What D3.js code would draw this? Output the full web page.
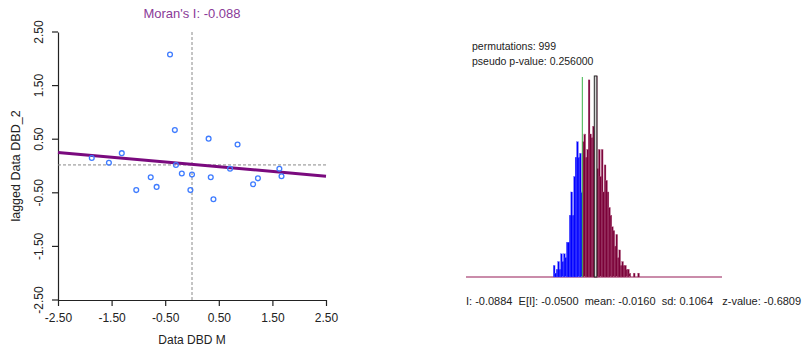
<!DOCTYPE html>
<html>
<head>
<meta charset="utf-8">
<script src="https://cdn.jsdelivr.net/npm/d3@7"></script>
<style>
  body { margin: 0; background: #fff; }
  svg { font-family: "Liberation Sans", Arial, sans-serif; }
</style>
</head>
<body>
<div class="chart"></div>
<script>
// scatter: standardized value vs spatial lag
const dataX   = [-0.41, -0.32, 0.31, 0.85, -1.31, -1.87, -1.55, -0.30, 1.63, 0.71, -0.19,
                 0.00, 0.35, -0.77, 1.67, 1.23, 1.14, -0.66, -1.04, -0.03, 0.40];
const laggedY = [2.08, 0.67, 0.51, 0.40, 0.24, 0.15, 0.06, 0.02, -0.05, -0.05, -0.14,
                 -0.16, -0.21, -0.21, -0.19, -0.23, -0.34, -0.39, -0.45, -0.45, -0.62];
const axisTicks = [-2.5, -1.5, -0.5, 0.5, 1.5, 2.5];
const moransI = -0.088;
const intercept = 0.03;
const meanLag = 0.02;

// permutation histogram
const binStart = -0.248;
const binWidth = 0.008;
const permCounts = [3, 1, 2, 4, 2, 6, 4, 6, 5, 9, 9, 16, 22, 16, 26, 31, 35, 31, 32, 22,
                    35, 37, 31, 33, 51, 37, 36, 39, 38, 52, 28, 33, 26, 33, 22, 29, 25, 22, 18, 16,
                    13, 12, 8, 11, 5, 7, 3, 4, 3, 3, 2, 2, 1, 0, 0, 1, 0, 0, 1, 0];
const observedI = -0.0884;
const permMean = -0.016;
const infoLines = ["permutations: 999", "pseudo p-value: 0.256000"];
const statsLine = "I: -0.0884  E[I]: -0.0500  mean: -0.0160  sd: 0.1064   z-value: -0.6809";

const width = 803, height = 348;

const svg = d3.select(".chart").append("svg")
  .attr("width", width)
  .attr("height", height);

// ---------- scatter ----------
let x = d3.scaleLinear().domain([-2.5, 2.5]).range([58, 326]);
let y = d3.scaleLinear().domain([-2.5, 2.5]).range([300, 32]);

let fmt = function(d) { return d.toFixed(2); };

let xAxis = svg.append("g")
  .attr("transform", "translate(0,300)")
  .call(d3.axisBottom(x).tickValues(axisTicks).tickFormat(fmt).tickSize(6).tickSizeOuter(0));
xAxis.selectAll("text")
  .attr("font-size", 12)
  .attr("fill", "#222")
  .attr("font-family", "Liberation Sans, Arial, sans-serif")
  .attr("dy", "1.05em");

let yAxis = svg.append("g")
  .attr("transform", "translate(58,0)")
  .call(d3.axisLeft(y).tickValues(axisTicks).tickFormat(fmt).tickSize(6).tickSizeOuter(0));
yAxis.selectAll("text")
  .attr("font-size", 12)
  .attr("fill", "#222")
  .attr("font-family", "Liberation Sans, Arial, sans-serif")
  .attr("text-anchor", "middle")
  .attr("x", 0)
  .attr("dy", 0)
  .attr("transform", function(d) { return "translate(-15," + y(d) + ") rotate(-90)"; })
  .attr("y", 0);
yAxis.selectAll(".tick").attr("transform", null);
yAxis.selectAll(".tick line")
  .attr("y1", function(d) { return y(d); })
  .attr("y2", function(d) { return y(d); });

svg.selectAll(".domain, .tick line").attr("stroke", "#222").attr("stroke-width", 1.2);

// dashed mean lines
svg.append("line")
  .attr("x1", x(0)).attr("x2", x(0))
  .attr("y1", y(2.5)).attr("y2", y(-2.5))
  .attr("stroke", "#8a8a8a").attr("stroke-dasharray", "3,2");
svg.append("line")
  .attr("x1", x(-2.5)).attr("x2", x(2.5))
  .attr("y1", y(meanLag)).attr("y2", y(meanLag))
  .attr("stroke", "#8a8a8a").attr("stroke-dasharray", "3,2");

// regression line
svg.append("line")
  .attr("x1", x(-2.5)).attr("y1", y(intercept + moransI * -2.5))
  .attr("x2", x(2.5)).attr("y2", y(intercept + moransI * 2.5))
  .attr("stroke", "#7a0a7e").attr("stroke-width", 3);

let points = dataX.map(function(d, i) { return { x: d, y: laggedY[i] }; });

svg.append("g").selectAll("circle")
  .data(points)
  .enter()
  .append("circle")
  .attr("cx", function(d) { return x(d.x); })
  .attr("cy", function(d) { return y(d.y); })
  .attr("r", 2.4)
  .attr("fill", "none")
  .attr("stroke", "#3f7cff")
  .attr("stroke-width", 1.3);

svg.append("text")
  .attr("x", x(0)).attr("y", 18)
  .attr("text-anchor", "middle")
  .attr("font-size", 13)
  .attr("fill", "#8a3a98")
  .text("Moran's I: " + moransI.toFixed(3));

svg.append("text")
  .attr("x", x(0)).attr("y", 344)
  .attr("text-anchor", "middle")
  .attr("font-size", 12)
  .attr("fill", "#222")
  .text("Data DBD M");

svg.append("text")
  .attr("transform", "translate(20," + y(0) + ") rotate(-90)")
  .attr("text-anchor", "middle")
  .attr("font-size", 12.5)
  .attr("fill", "#222")
  .text("lagged Data DBD_2");

// ---------- permutation histogram ----------
let hx = d3.scaleLinear()
  .domain([binStart, binStart + binWidth * permCounts.length])
  .range([553.3, 640.6]);
let hy = d3.scaleLinear().domain([0, d3.max(permCounts)]).range([277, 76]);
let barW = hx(binWidth) - hx(0);

let bins = permCounts.map(function(c, i) {
  return { x0: binStart + i * binWidth, count: c };
});

svg.append("line")
  .attr("x1", 466).attr("x2", 722)
  .attr("y1", 277).attr("y2", 277)
  .attr("stroke", "#b8668e").attr("stroke-width", 1.5);

svg.append("g").selectAll("rect")
  .data(bins.filter(function(d) { return d.count > 0; }))
  .enter()
  .append("rect")
  .attr("x", function(d) { return hx(d.x0); })
  .attr("y", function(d) { return hy(d.count); })
  .attr("width", barW + 0.3)
  .attr("height", function(d) { return hy(0) - hy(d.count); })
  .attr("fill", function(d) { return d.x0 < observedI ? "#0000ff" : "#7a0038"; })
  .attr("stroke", function(d) { return d.x0 < observedI ? "#6060ff" : "#b0577f"; })
  .attr("stroke-width", 0.3);

// observed statistic
svg.append("line")
  .attr("x1", hx(observedI)).attr("x2", hx(observedI))
  .attr("y1", hy(d3.max(permCounts)) + 1).attr("y2", hy(0))
  .attr("stroke", "#3cb44a").attr("stroke-width", 1);

// permutation mean marker
svg.append("rect")
  .attr("x", hx(permMean) - 1.2)
  .attr("y", hy(d3.max(permCounts)))
  .attr("width", 2.6)
  .attr("height", hy(0) - hy(d3.max(permCounts)))
  .attr("fill", "#d6d6d6")
  .attr("stroke", "#2a2a2a")
  .attr("stroke-width", 1);

svg.append("g").selectAll("text")
  .data(infoLines)
  .enter()
  .append("text")
  .attr("x", 472)
  .attr("y", function(d, i) { return 50 + i * 15; })
  .attr("font-size", 10.5)
  .attr("fill", "#222")
  .text(function(d) { return d; });

svg.append("text")
  .attr("x", 466).attr("y", 305)
  .attr("font-size", 11)
  .attr("fill", "#222")
  .style("white-space", "pre")
  .text(statsLine);
</script>
</body>
</html>
